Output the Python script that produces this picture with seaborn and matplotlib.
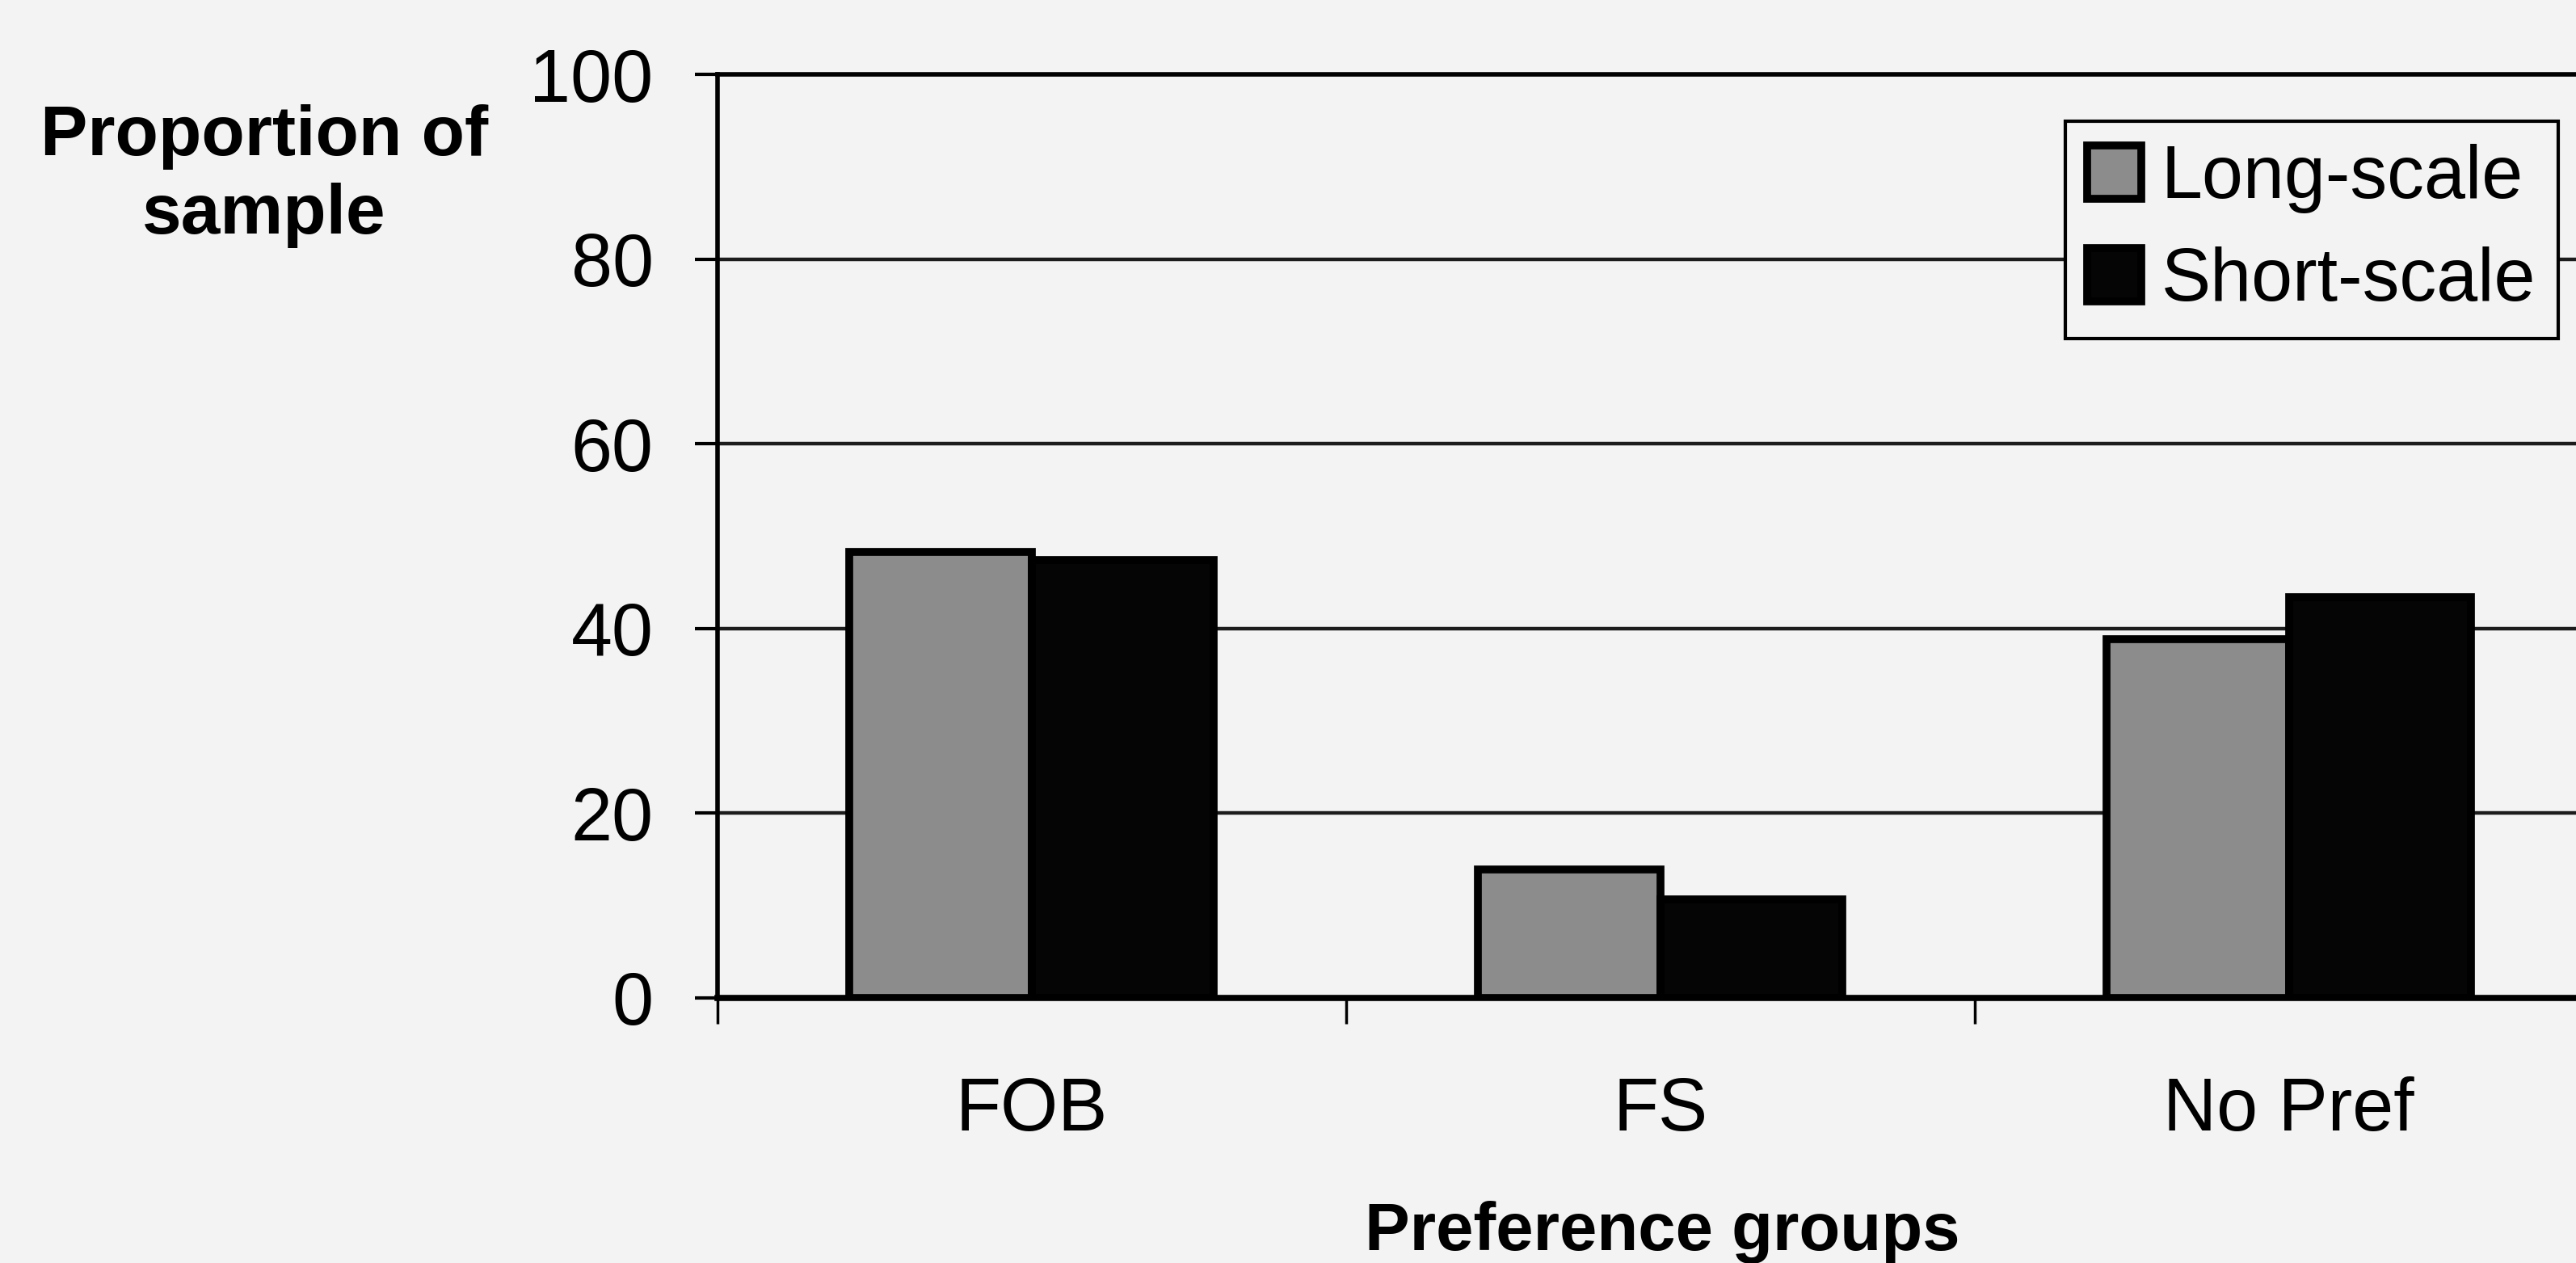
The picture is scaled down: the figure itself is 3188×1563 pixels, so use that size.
import matplotlib
matplotlib.use("Agg")
import matplotlib.pyplot as plt
import pandas as pd
import seaborn as sns

# ---- data ----
groups = ["FOB", "FS", "No Pref"]
series = ["Long-scale", "Short-scale"]
long_scale = [48.3, 13.9, 38.8]
short_scale = [47.4, 10.7, 43.4]
yticks = [0, 20, 40, 60, 80, 100]
ylabel = "Proportion of\nsample"
xlabel = "Preference groups"

df = pd.DataFrame({
    "group": groups * 2,
    "series": [series[0]] * len(groups) + [series[1]] * len(groups),
    "value": long_scale + short_scale,
})

sns.set_theme(style="white")
plt.rcParams["font.family"] = ["Liberation Sans", "DejaVu Sans"]

bg = "#f3f3f3"
fig = plt.figure(figsize=(31.88, 15.63), dpi=100, facecolor=bg)
ax = fig.add_axes([0.2785, 0.2099, 0.7321, 0.7312])
ax.set_facecolor(bg)
ax.set_axisbelow(True)

sns.barplot(data=df, x="group", y="value", hue="series", order=groups,
            hue_order=series, palette=["#8c8c8c", "#050505"], width=0.58,
            edgecolor="black", linewidth=7, saturation=1, ax=ax)

ax.set_ylim(0, 100)
ax.set_xlim(-0.5, 2.5)
ax.set_yticks(yticks)
ax.set_yticklabels([str(v) for v in yticks])
ax.yaxis.grid(True, color="#1c1c1c", linewidth=3.2)
ax.xaxis.grid(False)

# ticks at category boundaries, labels at centres
ax.set_xticks([-0.5, 0.5, 1.5, 2.5])
ax.set_xticklabels([])
ax.set_xticks([0, 1, 2], minor=True)
ax.set_xticklabels(groups, minor=True)
ax.tick_params(axis="x", which="major", bottom=True, length=23, width=2.5,
               direction="out", color="black")
ax.tick_params(axis="x", which="minor", bottom=True, length=0, pad=70,
               labelsize=66, labelcolor="black")
ax.tick_params(axis="y", left=True, length=20, width=3, direction="out",
               pad=37, labelsize=66, labelcolor="black", color="black")

for side in ["left", "bottom", "top"]:
    ax.spines[side].set_visible(True)
    ax.spines[side].set_color("black")
ax.spines["left"].set_linewidth(4)
ax.spines["bottom"].set_linewidth(5.5)
ax.spines["top"].set_linewidth(4)
ax.spines["right"].set_visible(False)

ax.set_ylabel(ylabel, rotation=0, fontsize=63, fontweight="bold",
              ha="center", va="center", linespacing=1.25, color="black")
ax.yaxis.set_label_coords(-0.2404, 0.890)
ax.set_xlabel(xlabel, fontsize=60, fontweight="bold", color="black")
ax.xaxis.label.set_va("center")
ax.xaxis.set_label_coords(0.501, -0.254)

leg = ax.legend(loc="upper right", bbox_to_anchor=(0.976, 0.949),
                borderaxespad=0, fontsize=66, frameon=True, fancybox=False,
                edgecolor="black", framealpha=1, facecolor=bg,
                handlelength=0.73, handleheight=0.73, handletextpad=0.27,
                borderpad=0.3, labelspacing=0.45, title=None)
leg.get_frame().set_linewidth(3)
for t in leg.get_texts():
    t.set_color("black")

fig.savefig("out.png", dpi=100, facecolor=bg)
